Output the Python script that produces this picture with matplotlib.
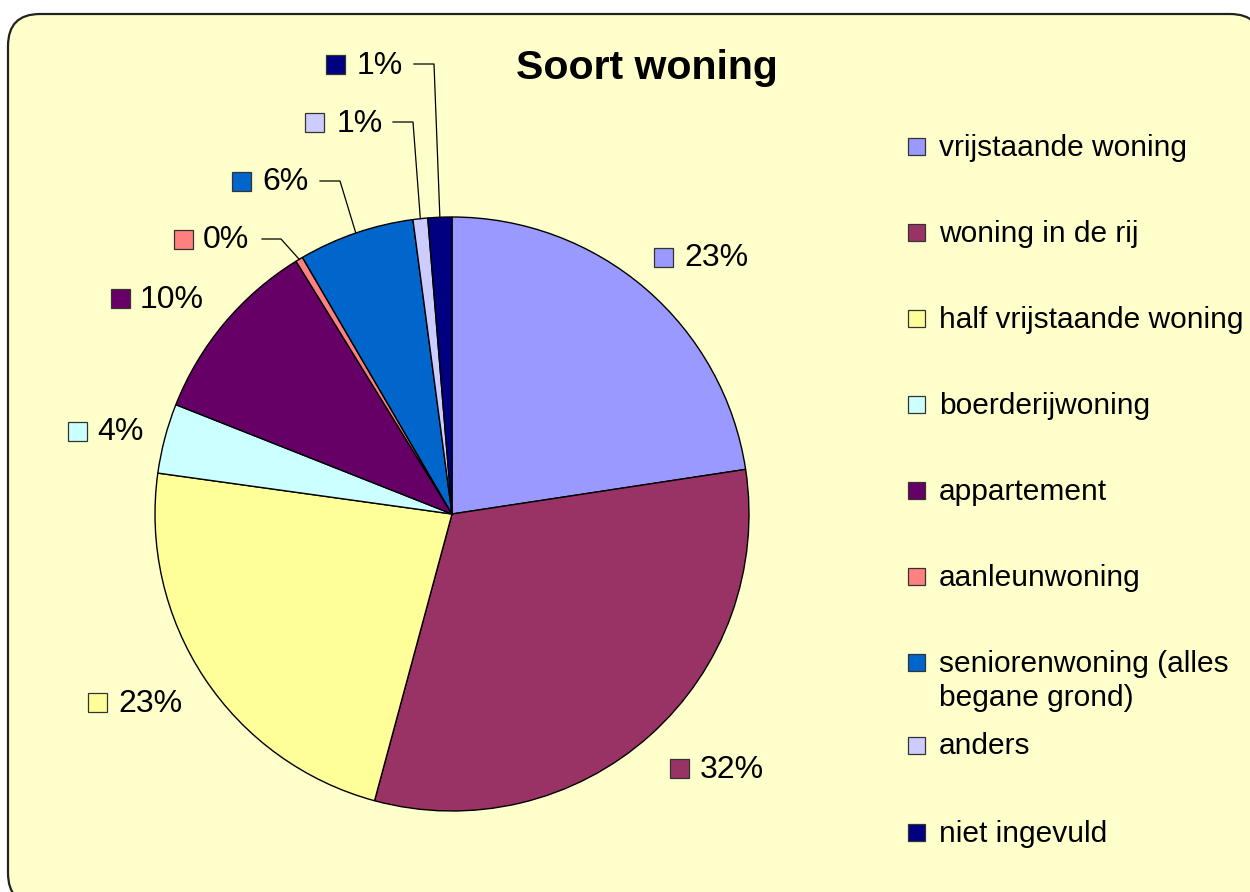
import numpy as np
import matplotlib
matplotlib.use('Agg')
import matplotlib.pyplot as plt
from matplotlib.patches import FancyBboxPatch, Rectangle

plt.rcParams['font.family'] = ['Liberation Sans', 'DejaVu Sans']

# data (percent of respondents)
categories = ['vrijstaande woning', 'woning in de rij', 'half vrijstaande woning',
              'boerderijwoning', 'appartement', 'aanleunwoning',
              'seniorenwoning (alles\nbegane grond)', 'anders', 'niet ingevuld']
shares = [22.6, 31.6, 23.0, 3.8, 10.2, 0.4, 6.3, 0.8, 1.3]
colors = ['#9999FF', '#993366', '#FFFF99', '#CCFFFF', '#660066',
          '#FF8080', '#0066CC', '#CCCCFF', '#000080']
title = 'Soort woning'

W, H = 1250, 892


def Y(y):
    # image row -> axes y (y up)
    return H - y


fig = plt.figure(figsize=(12.5, 8.92), dpi=100)
ax = fig.add_axes([0, 0, 1, 1])
ax.set_xlim(0, W)
ax.set_ylim(0, H)
ax.set_aspect('equal')
ax.axis('off')

# rounded chart area
frame = FancyBboxPatch((8, Y(905)), 1254, 891,
                       boxstyle='round,pad=0,rounding_size=32',
                       facecolor='#FFFFCC', edgecolor='#222222', linewidth=1.6,
                       zorder=0)
ax.add_patch(frame)

cx, cy, r = 452, Y(514), 297
wedges, _ = ax.pie(shares, colors=colors, startangle=90, counterclock=False,
                   center=(cx, cy), radius=r, frame=True,
                   wedgeprops=dict(edgecolor='black', linewidth=1.0))
ax.set_xlim(0, W)
ax.set_ylim(0, H)
ax.axis('off')

ax.text(647, Y(68), title, fontsize=29.5, fontweight='bold', ha='center', va='center')

# data labels: square marker centre x, text left x, row y
lab_pos = [(663, 684, 257), (679, 700, 768), (97, 118, 702), (77, 97, 431),
           (120, 140, 298), (183, 203, 239), (241, 262, 181), (314, 337, 122),
           (335, 357, 64)]
# leader lines for the thin slices: (start x, elbow x)
leaders = {5: (262, 281), 6: (320, 340), 7: (393, 413), 8: (414, 434)}

total = sum(shares)
sq = 19
for i, (w, v) in enumerate(zip(wedges, shares)):
    sx, tx, ty = lab_pos[i]
    ax.add_patch(Rectangle((sx - sq / 2, Y(ty) - sq / 2), sq, sq,
                           facecolor=colors[i], edgecolor='#333333', linewidth=0.9))
    ax.text(tx, Y(ty) - 1.5, f'{100 * v / total:.0f}%', fontsize=23, ha='left', va='center')
    if i in leaders:
        x0, x1 = leaders[i]
        mid = np.deg2rad((w.theta1 + w.theta2) / 2)
        ex, ey = cx + r * np.cos(mid), cy + r * np.sin(mid)
        ax.plot([x0, x1, ex], [Y(ty), Y(ty), ey], color='black', linewidth=0.9)

# legend
leg_rows = [146, 232, 318, 404, 490, 576, 662, 745, 832]
ls = 17
for c, lab, ry in zip(colors, categories, leg_rows):
    ax.add_patch(Rectangle((908, Y(ry) - ls / 2), ls, ls,
                           facecolor=c, edgecolor='#333333', linewidth=0.9))
    for k, line in enumerate(lab.split('\n')):
        ax.text(939, Y(ry + 35 * k) - 1.5, line, fontsize=21.5, ha='left', va='center')

fig.savefig('out.png', dpi=100)
